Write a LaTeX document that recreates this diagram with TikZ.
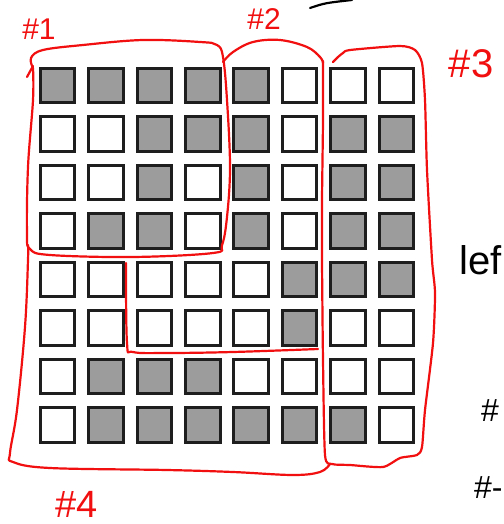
\documentclass[tikz,border=0pt]{standalone}
\usepackage{fontspec}
\setmainfont{Liberation Sans}
\definecolor{cellgray}{HTML}{9C9C9C}
\definecolor{celledge}{HTML}{1E1E1E}
\definecolor{inkred}{HTML}{F20F0F}
\tikzset{
  cellon/.style={draw=celledge, fill=cellgray, line width=2.6pt, minimum size=34.5pt, inner sep=0pt},
  celloff/.style={draw=celledge, fill=white, line width=2.6pt, minimum size=34.5pt, inner sep=0pt},
  redink/.style={draw=inkred, line width=2.2pt, line cap=round, line join=round},
  redtag/.style={text=inkred, inner sep=0pt},
  blacktag/.style={text=black, inner sep=0pt}
}
\begin{document}
\begin{tikzpicture}[x=1pt,y=-1pt]
\useasboundingbox (0,0) rectangle (503,524);
\fill[white] (0,0) rectangle (503,524);

% row 1
\node[cellon] (c11) at (57.5,85.5) {}; \node[cellon] (c12) at (106,85.5) {}; \node[cellon] (c13) at (154.5,85.5) {}; \node[cellon] (c14) at (203,85.5) {};
\node[cellon] (c15) at (251,85.5) {}; \node[celloff] (c16) at (299.5,85.5) {}; \node[celloff] (c17) at (348,85.5) {}; \node[celloff] (c18) at (396.5,85.5) {};
% row 2
\node[celloff] (c21) at (57.5,134) {}; \node[celloff] (c22) at (106,134) {}; \node[cellon] (c23) at (154.5,134) {}; \node[cellon] (c24) at (203,134) {};
\node[cellon] (c25) at (251,134) {}; \node[celloff] (c26) at (299.5,134) {}; \node[cellon] (c27) at (348,134) {}; \node[cellon] (c28) at (396.5,134) {};
% row 3
\node[celloff] (c31) at (57.5,182.5) {}; \node[celloff] (c32) at (106,182.5) {}; \node[cellon] (c33) at (154.5,182.5) {}; \node[celloff] (c34) at (203,182.5) {};
\node[cellon] (c35) at (251,182.5) {}; \node[celloff] (c36) at (299.5,182.5) {}; \node[cellon] (c37) at (348,182.5) {}; \node[cellon] (c38) at (396.5,182.5) {};
% row 4
\node[celloff] (c41) at (57.5,231) {}; \node[cellon] (c42) at (106,231) {}; \node[cellon] (c43) at (154.5,231) {}; \node[celloff] (c44) at (203,231) {};
\node[cellon] (c45) at (251,231) {}; \node[celloff] (c46) at (299.5,231) {}; \node[cellon] (c47) at (348,231) {}; \node[cellon] (c48) at (396.5,231) {};
% row 5
\node[celloff] (c51) at (57.5,279.5) {}; \node[celloff] (c52) at (106,279.5) {}; \node[celloff] (c53) at (154.5,279.5) {}; \node[celloff] (c54) at (203,279.5) {};
\node[celloff] (c55) at (251,279.5) {}; \node[cellon] (c56) at (299.5,279.5) {}; \node[cellon] (c57) at (348,279.5) {}; \node[cellon] (c58) at (396.5,279.5) {};
% row 6
\node[celloff] (c61) at (57.5,328) {}; \node[celloff] (c62) at (106,328) {}; \node[celloff] (c63) at (154.5,328) {}; \node[celloff] (c64) at (203,328) {};
\node[celloff] (c65) at (251,328) {}; \node[cellon] (c66) at (299.5,328) {}; \node[celloff] (c67) at (348,328) {}; \node[celloff] (c68) at (396.5,328) {};
% row 7
\node[celloff] (c71) at (57.5,376.5) {}; \node[cellon] (c72) at (106,376.5) {}; \node[cellon] (c73) at (154.5,376.5) {}; \node[cellon] (c74) at (203,376.5) {};
\node[celloff] (c75) at (251,376.5) {}; \node[celloff] (c76) at (299.5,376.5) {}; \node[celloff] (c77) at (348,376.5) {}; \node[celloff] (c78) at (396.5,376.5) {};
% row 8
\node[celloff] (c81) at (57.5,425) {}; \node[cellon] (c82) at (106,425) {}; \node[cellon] (c83) at (154.5,425) {}; \node[cellon] (c84) at (203,425) {};
\node[cellon] (c85) at (251,425) {}; \node[cellon] (c86) at (299.5,425) {}; \node[cellon] (c87) at (348,425) {}; \node[celloff] (c88) at (396.5,425) {};

% red outlines
\draw[redink] plot[smooth, tension=0.6] coordinates {(27,77) (33,66)};
\draw[redink] plot[smooth, tension=0.6] coordinates {(33,68) (31,58) (43,50) (83,45) (143,40) (200,42) (217,45) (223,57) (227,100) (230,167) (227,217) (222,245) (213,253) (133,257) (50,255) (30,249) (27,233) (28,167) (33,100) (33,68)};
\draw[redink] plot[smooth, tension=0.6] coordinates {(28,245) (28,260) (25,327) (17,410) (10,453) (13,462) (50,468) (167,470) (233,472) (293,475) (320,472) (330,464)};
\draw[redink] plot[smooth, tension=0.6] coordinates {(223,62) (233,52) (253,42) (280,40) (307,47) (320,57) (323,63)};
\draw[redink] plot[smooth, tension=0.4] coordinates {(323,61) (323,120) (322,200) (322,260) (323,360) (325,455) (332,464) (350,465) (383,467) (400,458) (417,455) (422,447) (425,410) (433,343) (435,293) (432,260) (427,170) (425,100) (422,63) (415,50) (400,46) (350,50) (343,53) (338,57) (333,62)};
\draw[redink] plot[smooth, tension=0.6] coordinates {(126,263) (127,343) (133,352) (167,353) (233,352) (318,349)};

% annotations
\node[redtag, font=\fontsize{30}{30}\selectfont] (tag1) at (39,29) {\#1};
\node[redtag, font=\fontsize{30}{30}\selectfont] (tag2) at (264,19) {\#2};
\node[redtag, font=\fontsize{40}{40}\selectfont] (tag3) at (471,64) {\#3};
\node[redtag, font=\fontsize{38}{38}\selectfont] (tag4) at (77,504) {\#4};
\draw[black, line width=2.2pt, line cap=round] (310,8) .. controls (325,3) .. (352,0);
\node[blacktag, font=\fontsize{40}{40}\selectfont, anchor=base west] (leftword) at (459,274) {lef};
\node[blacktag, font=\fontsize{32}{32}\selectfont, anchor=base west] (hashA) at (481,421) {\#};
\node[blacktag, font=\fontsize{32}{32}\selectfont, anchor=base west] (hashB) at (474,498) {\#-};
\end{tikzpicture}
\end{document}
